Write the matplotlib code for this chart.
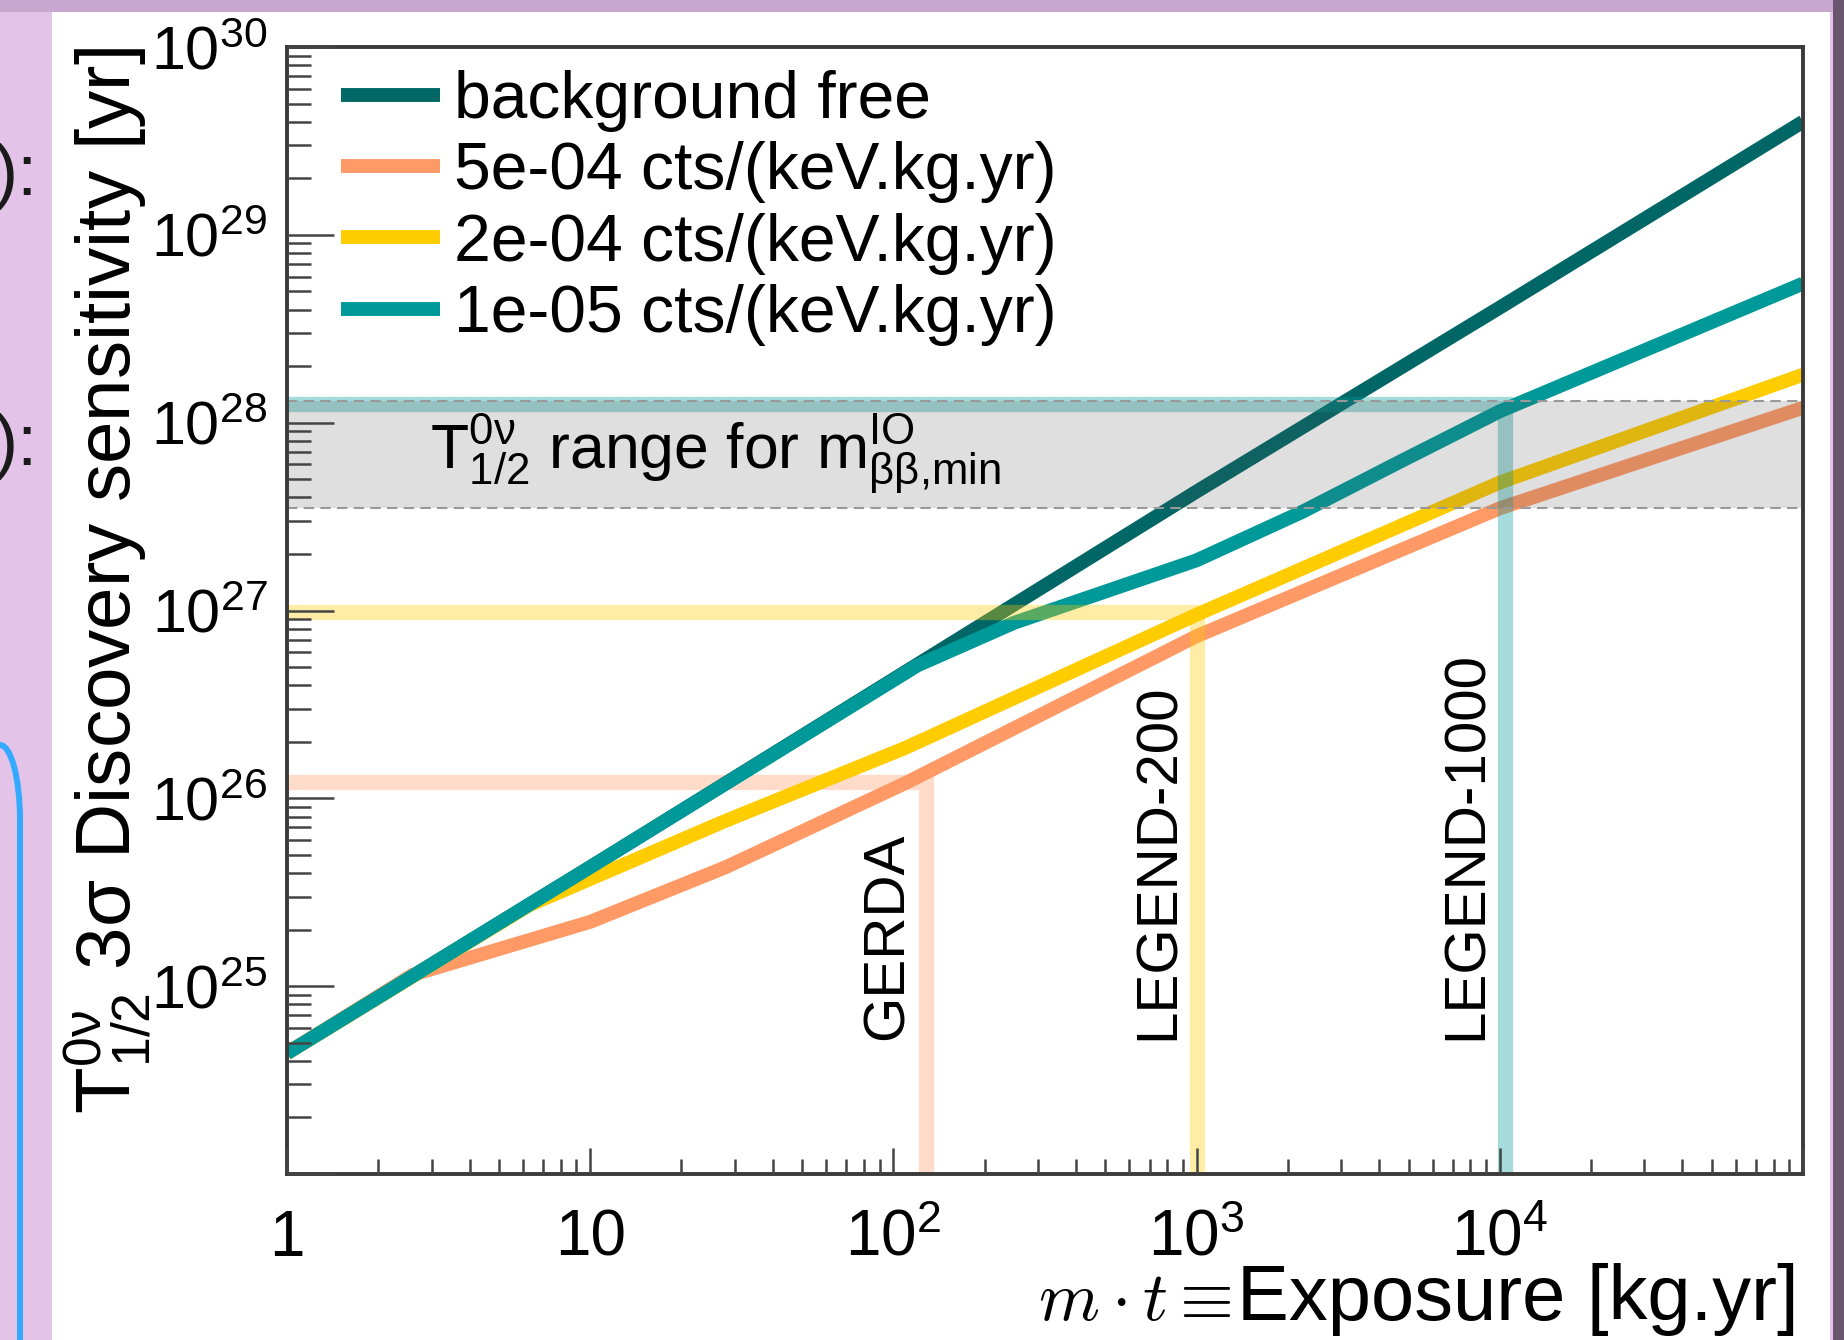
import numpy as np
import matplotlib
matplotlib.use("Agg")
import matplotlib.pyplot as plt
import matplotlib.transforms as mtransforms
from matplotlib.patches import Rectangle, Arc
from matplotlib.lines import Line2D
from matplotlib.ticker import LogLocator, NullFormatter

plt.rcParams['font.family'] = ['Liberation Sans', 'DejaVu Sans']
plt.rcParams['mathtext.fontset'] = 'custom'
plt.rcParams['mathtext.rm'] = 'Liberation Sans'
plt.rcParams['mathtext.it'] = 'Liberation Sans:italic'
plt.rcParams['mathtext.bf'] = 'Liberation Sans:bold'

# exposure [kg.yr] -> 3 sigma discovery sensitivity [yr]
bkgfree_exp = [1, 10, 100, 1000, 1e4, 1e5]
bkgfree_t = [4.4e24, 4.3e25, 4.3e26, 4.3e27, 4.1e28, 4.0e29]

bi5e4_exp = [1, 2.6, 10, 28, 109, 1000, 1e4, 1e5]
bi5e4_t = [4.4e24, 1.15e25, 2.2e25, 4.3e25, 1.2e26, 7.3e26, 3.5e27, 1.2e28]

bi2e4_exp = [1, 6.3, 28, 109, 1000, 1e4, 1e5]
bi2e4_t = [4.4e24, 2.7e25, 7.6e25, 1.85e26, 9.5e26, 4.8e27, 1.8e28]

bi1e5_exp = [1, 10, 120, 250, 1000, 2230, 4690, 1e4, 1e5]
bi1e5_t = [4.4e24, 4.3e25, 5.1e26, 8.6e26, 1.85e27, 3.35e27, 6.2e27, 1.15e28, 5.5e28]

labels = ['background free', '5e-04 cts/(keV.kg.yr)',
          '2e-04 cts/(keV.kg.yr)', '1e-05 cts/(keV.kg.yr)']
colors = ['#006666', '#FF9966', '#FFCC00', '#009999']

expts = ['GERDA', 'LEGEND-200', 'LEGEND-1000']
expt_exp = [128, 1000, 10400]
expt_t = [1.22e26, 9.8e26, 1.25e28]

io_range = [3.5e27, 1.3e28]

xticks = [1, 10, 100, 1e3, 1e4, 1e5]
xticklabels = ['1', '10', r'$\mathregular{10^{2}}$', r'$\mathregular{10^{3}}$',
               r'$\mathregular{10^{4}}$', '']
yticks = [1e24, 1e25, 1e26, 1e27, 1e28, 1e29, 1e30]
yticklabels = [''] + [r'$\mathregular{10^{%d}}$' % p for p in range(25, 31)]

W, H = 1844, 1340
fig = plt.figure(figsize=(W / 100, H / 100), dpi=100, facecolor='#E4C3E8')


def fx(x):
    return x / W


def fy(y):
    return 1 - y / H


# slide bits around the plot canvas
fig.add_artist(Rectangle((0, fy(12)), 1, 12 / H, transform=fig.transFigure,
                         color='#C9A6CF', lw=0, zorder=0))
fig.add_artist(Rectangle((fx(52), 0), fx(1830 - 52), fy(12), transform=fig.transFigure,
                         color='white', lw=0, zorder=0))
fig.add_artist(Rectangle((fx(1833), 0), fx(11), 1, transform=fig.transFigure,
                         color='#6B5670', lw=0, zorder=0))
fig.add_artist(Arc((fx(0), fy(820)), fx(40), 150 / H, theta1=0, theta2=90,
                   transform=fig.transFigure, color='#33AAFF', lw=4.3))
fig.add_artist(Line2D([fx(20), fx(20)], [fy(820), 0], transform=fig.transFigure,
                      color='#33AAFF', lw=4.3))
fig.text(fx(-6), fy(176), '):', fontsize=52, va='center', ha='left', color='#1a1a1a')
fig.text(fx(-6), fy(446), '):', fontsize=52, va='center', ha='left', color='#1a1a1a')

ax = fig.add_axes([287 / W, 1 - 1174 / H, (1803 - 287) / W, (1174 - 47) / H])
ax.set_xscale('log')
ax.set_yscale('log')
ax.set_xlim(1, 1e5)
ax.set_ylim(1e24, 1e30)

curves = [(bkgfree_exp, bkgfree_t), (bi5e4_exp, bi5e4_t),
          (bi2e4_exp, bi2e4_t), (bi1e5_exp, bi1e5_t)]
handles = []
for (e, t), lab, c in zip(curves, labels, colors):
    h, = ax.plot(e, t, color=c, lw=10, label=lab, zorder=2,
                 solid_capstyle='butt', solid_joinstyle='round')
    handles.append(h)

# experiment sensitivity bands
band_z = [1.5, 3, 3]
tr = mtransforms.blended_transform_factory(ax.transData, ax.transAxes)
for name, e, t, c, z in zip(expts, expt_exp, expt_t, colors[1:], band_z):
    ax.plot([1, e, e], [t, t, 1e24], color=c, alpha=0.35, lw=11, zorder=z,
            solid_joinstyle='miter', solid_capstyle='butt')
    ax.text(e * 0.75, 0.119, name, transform=tr, rotation=90, ha='center',
            va='bottom', fontsize=42, zorder=6)

ax.axhspan(io_range[0], io_range[1], color='#555555', alpha=0.19, lw=0, zorder=3)
for v in io_range:
    ax.axhline(v, color='#999999', lw=1.5, ls=(0, (5, 3)), zorder=4)
ax.text(2.96, 5.7e27, r'$\mathregular{T^{0ν}_{1/2}}$ range for $\mathregular{m^{IO}_{ββ{,}min}}$',
        fontsize=45, ha='left', va='baseline', zorder=6)

ax.set_xticks(xticks, xticklabels)
ax.set_yticks(yticks, yticklabels)
ax.xaxis.set_minor_locator(LogLocator(base=10, subs=np.arange(2, 10)))
ax.yaxis.set_minor_locator(LogLocator(base=10, subs=np.arange(2, 10)))
ax.xaxis.set_minor_formatter(NullFormatter())
ax.yaxis.set_minor_formatter(NullFormatter())
ax.tick_params(which='both', direction='in', top=False, right=False,
               color='#444444', width=1.8)
ax.tick_params(axis='x', which='major', length=19, pad=59, labelsize=46)
ax.tick_params(axis='x', which='minor', length=11)
ax.tick_params(axis='y', which='major', length=34, pad=14, labelsize=44)
ax.tick_params(axis='y', which='minor', length=17)
for lbl in ax.get_xticklabels():
    lbl.set_va('baseline')
for s in ax.spines.values():
    s.set_color('#3a3a3a')
    s.set_linewidth(2.8)
    s.set_zorder(7)
ax.xaxis.set_zorder(7)
ax.yaxis.set_zorder(7)

ax.legend(handles=handles, loc='upper left', bbox_to_anchor=(0.0356, 0.9795),
          frameon=False, fontsize=47.5, handlelength=1.5, handletextpad=0.21,
          labelspacing=0.14, borderpad=0, borderaxespad=0)

# axis titles
fig.text(fx(1799), fy(1320), 'Exposure [kg.yr]', fontsize=56, ha='right', va='baseline')
fig.text(fx(1232), fy(1320), r'$m \cdot t \equiv$', fontsize=50, ha='right',
         va='baseline', math_fontfamily='cm')
fig.text(fx(108), fy(47), r'$\mathregular{T^{0ν}_{1/2}}$ 3σ Discovery sensitivity [yr]',
         fontsize=55, rotation=90, ha='center', va='top')

fig.savefig('out.png', dpi=100, facecolor=fig.get_facecolor())
